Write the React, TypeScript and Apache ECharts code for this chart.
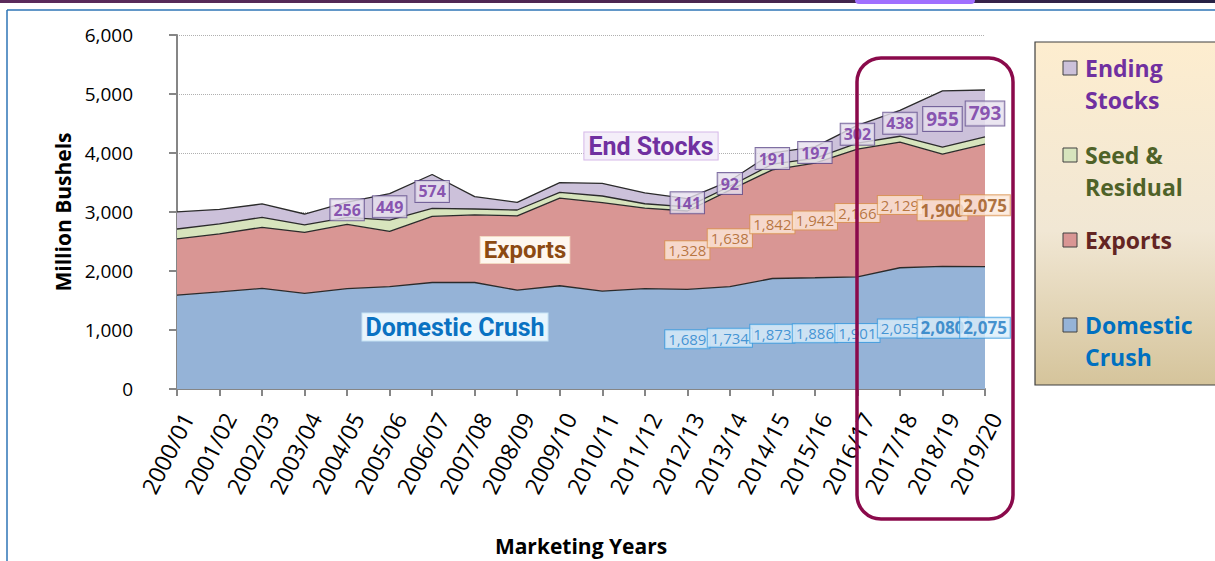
import React, { useEffect, useRef } from 'react';
import * as echarts from 'echarts';

const years = ['2000/01','2001/02','2002/03','2003/04','2004/05','2005/06','2006/07','2007/08','2008/09','2009/10','2010/11','2011/12','2012/13','2013/14','2014/15','2015/16','2016/17','2017/18','2018/19','2019/20'];
const crush = [1590,1645,1705,1620,1700,1735,1805,1805,1675,1750,1660,1700,1689,1734,1873,1886,1901,2055,2080,2075];
const exportsV = [955,985,1035,1035,1090,935,1120,1145,1260,1485,1500,1365,1328,1638,1842,1942,2166,2129,1900,2075];
const seed = [167,167,170,125,120,194,137,101,99,98,111,75,70,65,95,80,100,100,118,125];
const stocks = [290,248,226,186,256,449,574,209,130,165,215,185,141,92,191,197,302,438,955,793];
const yTicks = [0,1000,2000,3000,4000,5000,6000];

const crushLabelIdx = [12,13,14,15,16,17,18,19];
const exportLabelIdx = [12,13,14,15,16,17,18,19];
const stocksLabelIdx = [4,5,6,12,13,14,15,16,17,18,19];
const boldIdx = [18,19];

const fmt = (v: number) => v.toLocaleString('en-US');

function labelSeries(name: string, idxs: number[], mid: (i: number) => number, val: number[], style: any, boldStyle: any) {
  const data = years.map((_, i) => {
    if (idxs.indexOf(i) < 0) return '-';
    const big = boldIdx.indexOf(i) >= 0;
    return {
      value: mid(i),
      label: {
        show: true,
        position: 'inside',
        formatter: fmt(val[i]),
        ...style,
        ...(big ? boldStyle : {}),
      },
    };
  });
  return {
    name,
    type: 'scatter',
    symbolSize: 0,
    itemStyle: { color: 'transparent' },
    silent: true,
    z: 10,
    data,
  };
}

export default function App() {
  const ref = useRef<HTMLDivElement>(null);
  useEffect(() => {
    document.body.style.margin = '0';
    const chart = echarts.init(ref.current!, null, { renderer: 'svg' });
    const lineStyle = { color: '#2b2b2b', width: 1.3 };
    const areaSeries = (name: string, data: number[], color: string) => ({
      name,
      type: 'line',
      stack: 'total',
      symbol: 'none',
      data,
      lineStyle,
      itemStyle: { color },
      areaStyle: { color, opacity: 1 },
      silent: true,
    });
    const legendItems = [
      { lines: ['Ending', 'Stocks'], y: 68, color: '#ccc1da', text: '#7030a0' },
      { lines: ['Seed &', 'Residual'], y: 155, color: '#d7e4bd', text: '#4f6228' },
      { lines: ['Exports'], y: 240, color: '#d99694', text: '#632523' },
      { lines: ['Domestic', 'Crush'], y: 325, color: '#95b3d7', text: '#0070c0' },
    ];
    const legendChildren: any[] = [
      {
        type: 'rect',
        shape: { x: 1035, y: 42, width: 190, height: 343 },
        style: {
          fill: new echarts.graphic.LinearGradient(0, 0, 0, 1, [
            { offset: 0, color: '#fdedcf' },
            { offset: 0.55, color: '#f1e7d4' },
            { offset: 1, color: '#d5c49b' },
          ]),
          stroke: '#3f3f3f',
          lineWidth: 1.2,
        },
      },
    ];
    legendItems.forEach((it) => {
      legendChildren.push({
        type: 'rect',
        shape: { x: 1063, y: it.y - 7, width: 14, height: 14 },
        style: { fill: it.color, stroke: '#404040', lineWidth: 1 },
      });
      it.lines.forEach((ln, k) => {
        legendChildren.push({
          type: 'text',
          x: 1085,
          y: it.y + k * 32,
          style: {
            text: ln,
            fill: it.text,
            font: 'bold 23px "Open Sans"',
            verticalAlign: 'middle',
            align: 'left',
          },
        });
      });
    });

    const option: any = {
      animation: false,
      textStyle: { fontFamily: 'Open Sans' },
      grid: { left: 177, right: 230, top: 35, bottom: 172 },
      xAxis: {
        type: 'category',
        boundaryGap: false,
        data: years,
        name: 'Marketing Years',
        nameLocation: 'middle',
        nameGap: 146,
        nameTextStyle: { fontWeight: 'bold', fontSize: 21, color: '#000', fontFamily: 'Open Sans' },
        axisLine: { lineStyle: { color: '#868686', width: 2 } },
        axisTick: { show: true, length: 7, lineStyle: { color: '#868686', width: 2 } },
        axisLabel: {
          rotate: 63,
          fontSize: 23,
          color: '#000',
          margin: 20,
          interval: 0,
          verticalAlign: 'top',
          fontFamily: 'Open Sans',
        },
        splitLine: { show: false },
      },
      yAxis: {
        type: 'value',
        min: yTicks[0],
        max: yTicks[yTicks.length - 1],
        interval: 1000,
        name: 'Million Bushels',
        nameLocation: 'middle',
        nameGap: 102,
        nameTextStyle: { fontWeight: 'bold', fontSize: 21, color: '#000', fontFamily: 'Open Sans' },
        axisLine: { show: true, lineStyle: { color: '#868686', width: 2 } },
        axisTick: { show: true, length: 8, lineStyle: { color: '#868686', width: 2 } },
        axisLabel: { fontSize: 19, color: '#000', margin: 44, formatter: (v: number) => fmt(v), fontFamily: 'Open Sans' },
        splitLine: { show: true, lineStyle: { color: '#b0b0b0', type: 'dotted', width: 1 } },
      },
      series: [
        areaSeries('Domestic Crush', crush, '#95b3d7'),
        areaSeries('Exports', exportsV, '#d99694'),
        areaSeries('Seed & Residual', seed, '#d7e4bd'),
        areaSeries('Ending Stocks', stocks, '#ccc1da'),
        labelSeries('crushLbl', crushLabelIdx, (i) => crush[i] / 2, crush,
          { color: '#2080cc', fontSize: 15, backgroundColor: '#dbeefa', borderColor: '#3a9be0', borderWidth: 1, padding: [2, 3, 1, 3], fontFamily: 'Open Sans' },
          { fontSize: 17, fontWeight: 'bold', color: '#1a78c2' }),
        labelSeries('exportLbl', exportLabelIdx, (i) => crush[i] + exportsV[i] / 2, exportsV,
          { color: '#a85c1a', fontSize: 15, backgroundColor: '#fde9d9', borderColor: '#d9924f', borderWidth: 1, padding: [2, 3, 1, 3], fontFamily: 'Open Sans' },
          { fontSize: 17, fontWeight: 'bold', color: '#9a5214' }),
        labelSeries('stocksLbl', stocksLabelIdx, (i) => crush[i] + exportsV[i] + seed[i] + stocks[i] / 2, stocks,
          { color: '#7030a0', fontSize: 16, fontWeight: 'bold', backgroundColor: '#e6e0ee', borderColor: '#5f4b8b', borderWidth: 1, padding: [3, 3, 2, 3], fontFamily: 'Open Sans' },
          { fontSize: 19 }),
      ],
      graphic: [
        {
          type: 'rect',
          shape: { x: 0, y: 0, width: 1215, height: 3 },
          style: {
            fill: new echarts.graphic.LinearGradient(0, 0, 1, 0, [
              { offset: 0, color: '#5b2b5c' },
              { offset: 0.6, color: '#4a2650' },
              { offset: 1, color: '#262145' },
            ]),
          },
          z: 50,
        },
        { type: 'rect', shape: { x: 855, y: 0, width: 120, height: 4, r: [0, 0, 6, 6] }, style: { fill: '#a070ff' }, z: 51 },
        { type: 'line', shape: { x1: 7, y1: 10, x2: 1215, y2: 10 }, style: { stroke: '#2e75b6', lineWidth: 1.5 }, z: 50 },
        { type: 'line', shape: { x1: 7, y1: 10, x2: 7, y2: 561 }, style: { stroke: '#2e75b6', lineWidth: 1.5 }, z: 50 },
        {
          type: 'text', x: 651, y: 146, z: 20,
          style: { text: 'End Stocks', font: 'bold 25px Roboto', fill: '#7030a0', align: 'center', verticalAlign: 'middle', backgroundColor: '#f4eef9', borderColor: '#d5b8e8', borderWidth: 1, padding: [1, 4] },
        },
        {
          type: 'text', x: 525, y: 250, z: 20,
          style: { text: 'Exports', font: 'bold 24px Roboto', fill: '#8c4a12', align: 'center', verticalAlign: 'middle', backgroundColor: '#fef7ef', borderColor: '#f2d9c2', borderWidth: 1, padding: [1, 3] },
        },
        {
          type: 'text', x: 455, y: 327, z: 20,
          style: { text: 'Domestic Crush', font: 'bold 25px Roboto', fill: '#0a72c2', align: 'center', verticalAlign: 'middle', backgroundColor: '#e8f5fd', borderColor: '#c6e3f5', borderWidth: 1, padding: [1, 3] },
        },
        { type: 'group', children: legendChildren, z: 20 },
        {
          type: 'rect', z: 100,
          shape: { x: 857, y: 58, width: 156, height: 461, r: 24 },
          style: { fill: 'none', stroke: '#8a0a4b', lineWidth: 3.5 },
        },
      ],
    };
    chart.setOption(option);
    return () => chart.dispose();
  }, []);
  return <div ref={ref} style={{ width: 1215, height: 561 }} />;
}
